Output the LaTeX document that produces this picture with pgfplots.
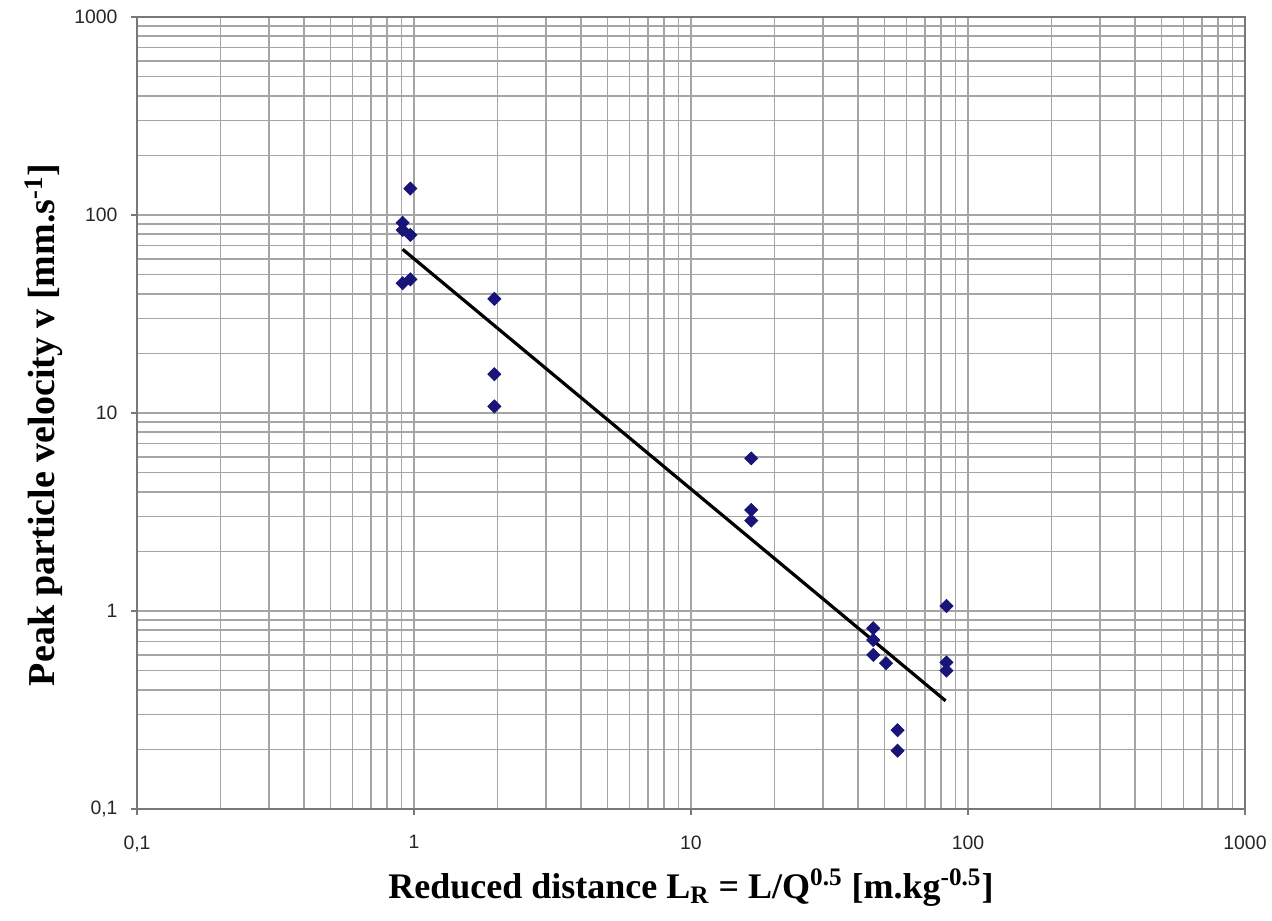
\documentclass[border=0pt]{standalone}
\usepackage{pgfplots}
\pgfplotsset{compat=1.18}
\usepackage{fontspec}
\setmainfont{Liberation Serif}
\newfontfamily\arial{Liberation Sans}
\definecolor{gridgray}{RGB}{165,165,165}
\definecolor{axisgray}{RGB}{120,120,120}
\definecolor{navymark}{RGB}{25,20,120}

\begin{document}
\begin{tikzpicture}
\begin{axis}[
    name=ax,
    xmode=log, ymode=log,
    scale only axis,
    width=554pt, height=396pt,
    xmin=0.1, xmax=1000,
    ymin=0.1, ymax=1000,
    xtick={0.1,1,10,100,1000},
    xticklabels={{0,1},1,10,100,1000},
    ytick={0.1,1,10,100,1000},
    yticklabels={{0,1},1,10,100,1000},
    xtick pos=bottom, ytick pos=left,
    grid=both,
    major grid style={gridgray, line width=0.75pt},
    minor grid style={gridgray, line width=0.75pt},
    axis line style={axisgray, line width=1pt},
    tick style={axisgray, line width=0.75pt},
    tick align=outside,
    major tick length=3pt,
    minor tick length=0pt,
    ticklabel style={font=\arial\fontsize{9.7}{11}\selectfont, text=black!85},
    xticklabel style={yshift=-6.8pt},
    yticklabel style={xshift=-3.2pt},
    xlabel={Reduced distance L\textsubscript{R} = L/Q\textsuperscript{0.5} [m.kg\textsuperscript{-0.5}]},
    ylabel={Peak particle velocity v [mm.s\textsuperscript{-1}]},
    xlabel style={font=\bfseries\fontsize{18}{21}\selectfont,
        at={(axis description cs:0.5,-0.1124)}, anchor=base},
    ylabel style={font=\bfseries\fontsize{19}{22}\selectfont,
        at={(axis description cs:-0.084,0.485)}, anchor=center},
]

% measured points
\addplot[only marks, mark=square*, mark size=2.3pt,
    mark options={rotate=45, draw=navymark, fill=navymark}] coordinates {
    (0.97,136)
    (0.91,91.4)
    (0.91,84)
    (0.97,79.3)
    (0.91,45.2)
    (0.97,47.3)
    (1.95,37.7)
    (1.95,15.7)
    (1.95,10.8)
    (16.5,5.9)
    (16.5,3.24)
    (16.5,2.86)
    (45.5,0.818)
    (45.5,0.714)
    (45.5,0.60)
    (50.6,0.545)
    (55.7,0.25)
    (55.7,0.197)
    (83.6,1.06)
    (83.6,0.55)
    (83.6,0.50)
};

% regression line
\addplot[black, line width=1.6pt, no marks] coordinates {
    (0.91,67.1)
    (83,0.352)
};

\end{axis}
\pgfresetboundingbox
\path[use as bounding box] ([xshift=-68.5pt,yshift=-56pt]ax.south west) rectangle ([xshift=13.5pt,yshift=8.5pt]ax.north east);
\end{tikzpicture}
\end{document}
